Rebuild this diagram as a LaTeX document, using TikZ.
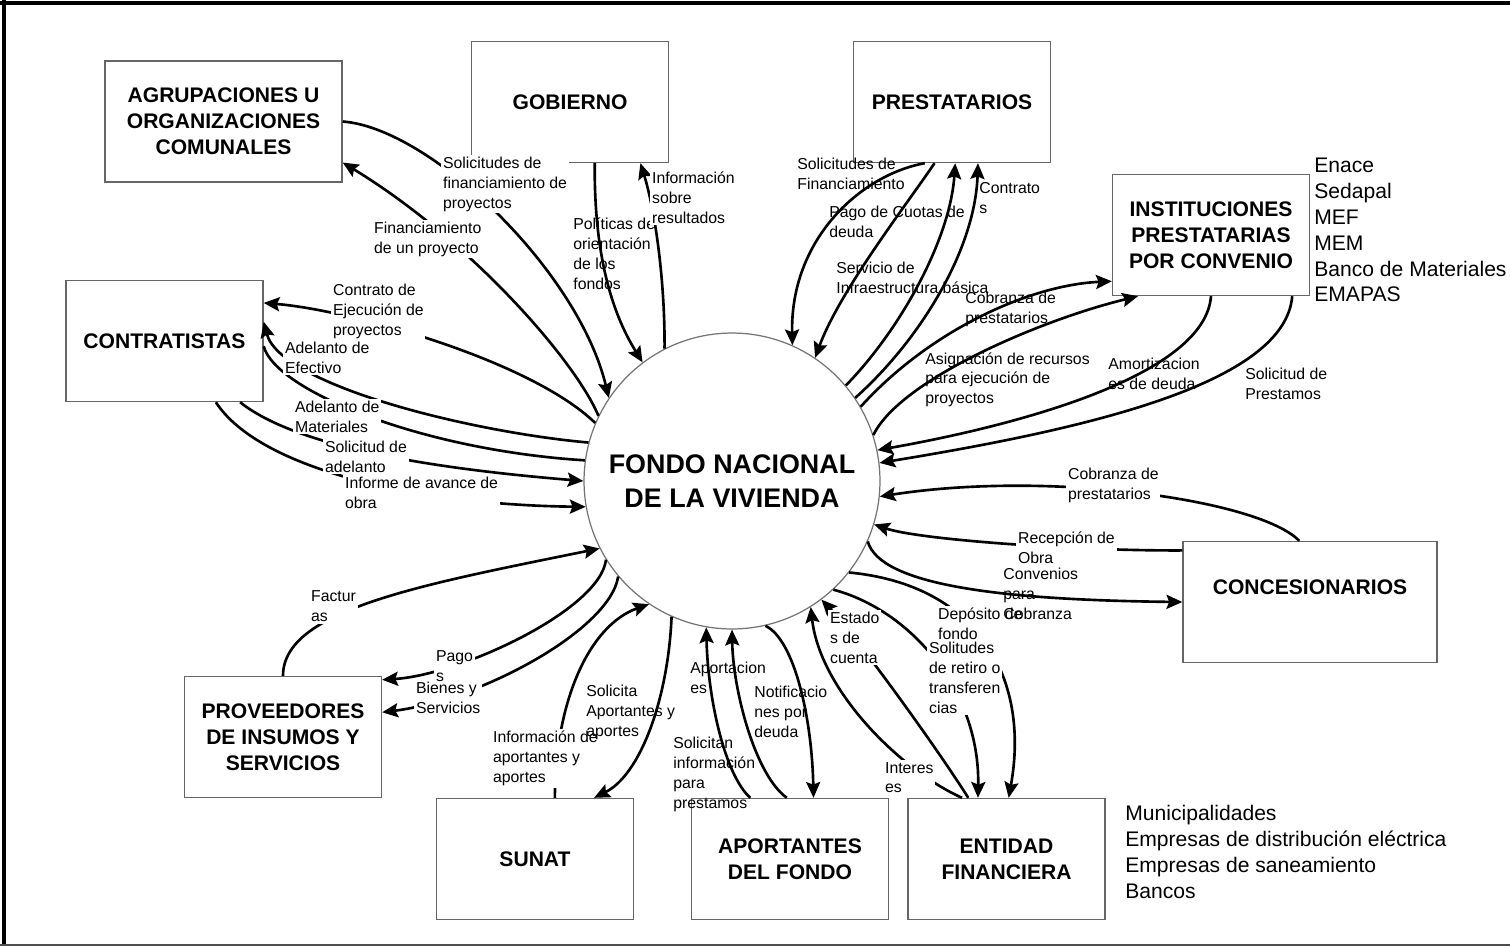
\documentclass[tikz,border=0pt]{standalone}
\usepackage{fontspec}
\setmainfont{Liberation Sans}
\usetikzlibrary{arrows.meta,calc}
\begin{document}
\begin{tikzpicture}[x=0.02cm,y=-0.02cm]
\tikzset{
  entity/.style={draw=black!60, line width=0.8pt, minimum width=3.94cm, minimum height=2.42cm,
    inner sep=0pt, align=center, font=\fontsize{12}{14.7}\selectfont\bfseries},
  proc/.style={circle, draw=black!55, line width=0.7pt, minimum size=5.92cm, inner sep=0pt,
    align=center, font=\fontsize{15.3}{19.3}\selectfont\bfseries},
  flow/.style={line width=1.5pt},
  arrowto/.style={-{Stealth[length=9pt,width=8pt,inset=1.5pt]}},
  lbl/.style={anchor=north west, inner sep=0pt, align=left, font=\fontsize{9}{11.3}\selectfont},
  gap/.style={lbl, fill=white, inner sep=1pt},
  note/.style={anchor=north west, inner sep=0pt, align=left, font=\fontsize{12}{14.7}\selectfont},
}
\useasboundingbox (0,0) rectangle (1510,950);

% outer frame
\draw[line width=2.2pt] (0,3) -- (1510,3);
\draw[line width=2.2pt] (4,0) -- (4,946);
\draw[line width=1pt, black!70] (0,945) -- (1510,945);

% entities
\node[entity, minimum width=4.74cm] (agr) at (223.5,121.5) {AGRUPACIONES U\\ORGANIZACIONES\\COMUNALES};
\node[entity] (gob) at (570,102) {GOBIERNO};
\node[entity] (pre) at (952,102) {PRESTATARIOS};
\node[entity] (ins) at (1211,235) {INSTITUCIONES\\PRESTATARIAS\\POR CONVENIO};
\node[entity] (con) at (164.5,341) {CONTRATISTAS};
\node[entity, minimum width=5.08cm] (cnc) at (1310,602) {\raisebox{17pt}{CONCESIONARIOS}};
\node[entity] (prv) at (283,737) {PROVEEDORES\\DE INSUMOS Y\\SERVICIOS};
\node[entity] (sun) at (535,859) {SUNAT};
\node[entity] (apo) at (790,859) {APORTANTES\\DEL FONDO};
\node[entity] (ent) at (1006.5,859) {ENTIDAD\\FINANCIERA};

% central process
\node[proc] (fnv) at (732,481) {FONDO NACIONAL\\DE LA VIVIENDA};

% side lists
\node[note] (lst1) at (1314,158) {Enace\\Sedapal\\MEF\\MEM\\Banco de Materiales\\EMAPAS};
\node[note] (lst2) at (1125,805) {Municipalidades\\Empresas de distribución eléctrica\\Empresas de saneamiento\\Bancos};

% flows: agrupaciones
\draw[flow,arrowto] (agr.east) .. controls (430,128) and (578,270) .. (fnv.146);
\draw[flow,arrowto] (fnv.154) .. controls (575,360) and (470,240) .. (agr.-19);
% gobierno
\draw[flow,arrowto] (gob.-68) .. controls (594,250) and (610,310) .. (fnv.127);
\draw[flow,arrowto] (fnv.117) .. controls (665,280) and (655,210) .. (gob.-41);
% prestatarios
\draw[flow,arrowto] (pre.-114) .. controls (860,175) and (790,240) .. (fnv.66);
\draw[flow,arrowto] (pre.-106) .. controls (910,200) and (840,290) .. (fnv.56);
\draw[flow,arrowto] (fnv.40) .. controls (900,330) and (950,240) .. (pre.-87);
\draw[flow,arrowto] (fnv.34) .. controls (920,340) and (975,250) .. (pre.-67);
% instituciones
\draw[flow,arrowto] (fnv.30) .. controls (930,330) and (1030,285) .. (ins.-155);
\draw[flow,arrowto] (fnv.18) .. controls (900,380) and (1040,320) .. (ins.-140);
\draw[flow,arrowto] (ins.-90) .. controls (1205,375) and (1020,425) .. (fnv.12);
\draw[flow,arrowto] (ins.-37) .. controls (1285,385) and (1080,430) .. (fnv.7);
% concesionarios
\draw[flow,arrowto] (cnc.100) .. controls (1260,500) and (1050,470) .. (fnv.-6);
\draw[flow,arrowto] (cnc.158) .. controls (1080,551) and (920,540) .. (fnv.-17);
\draw[flow,arrowto] (fnv.-24) .. controls (880,585) and (1000,600) .. (cnc.west);
% entidad financiera
\draw[flow,arrowto] (fnv.-38) .. controls (980,585) and (1030,680) .. (ent.88);
\draw[flow,arrowto] (fnv.-47) .. controls (910,610) and (980,690) .. (ent.115);
\draw[flow,arrowto] (ent.122) .. controls (935,745) and (855,635) .. (fnv.-53);
\draw[flow,arrowto] (ent.126) .. controls (900,770) and (820,690) .. (fnv.-58);
% aportantes
\draw[flow,arrowto] (apo.123) .. controls (725,775) and (708,700) .. (fnv.-100);
\draw[flow,arrowto] (apo.93) .. controls (755,775) and (733,690) .. (fnv.-90);
\draw[flow,arrowto] (fnv.-77) .. controls (795,640) and (812,720) .. (apo.69);
% sunat
\draw[flow,arrowto] (fnv.-114) .. controls (668,700) and (640,775) .. (sun.46);
\draw[flow,arrowto] (sun.72) .. controls (555,700) and (590,625) .. (fnv.-124);
% proveedores
\draw[flow,arrowto] (prv.north) .. controls (283,610) and (420,585) .. (fnv.-153);
\draw[flow,arrowto] (fnv.-148) .. controls (600,610) and (460,675) .. (prv.30);
\draw[flow,arrowto] (fnv.-140) .. controls (610,630) and (480,700) .. (prv.14);
% contratistas
\draw[flow,arrowto] (fnv.157) .. controls (530,360) and (350,310) .. (con.21);
\draw[flow,arrowto] (fnv.165) .. controls (470,432) and (280,385) .. (con.11);
\draw[flow] (con.-3) .. controls (275,390) and (420,450) .. (fnv.172);
\draw[flow,arrowto] (con.-39) .. controls (300,450) and (450,470) .. (fnv.180);
\draw[flow,arrowto] (con.-50) .. controls (260,470) and (420,505) .. (fnv.-170);

% flow labels (the filled ones break the connector behind them)
\node[gap] (l1) at (441,155) {Solicitudes de\\financiamiento de\\proyectos};
\node[gap] (l2) at (372,220) {Financiamiento\\de un proyecto};
\node[lbl] (l3) at (573,218) {Políticas de\\orientación\\de los\\fondos};
\node[gap] (l4) at (650,170) {Información\\sobre\\resultados};
\node[lbl] (l5) at (797,158) {Solicitudes de\\Financiamiento};
\node[lbl] (l6) at (979,182) {Contrato\\s};
\node[lbl] (l7) at (829,206) {Pago de Cuotas de\\deuda};
\node[lbl] (l8) at (836,262) {Servicio de\\Infraestructura básica};
\node[lbl] (l9) at (965,292) {Cobranza de\\prestatarios};
\node[lbl] (l10) at (925,352) {Asignación de recursos\\para ejecución de\\proyectos};
\node[lbl] (l11) at (1108,358) {Amortizacion\\es de deuda};
\node[lbl] (l12) at (1245,368) {Solicitud de\\Prestamos};
\node[gap] (l13) at (1066,466) {Cobranza de\\prestatarios};
\node[gap] (l14) at (1016,530) {Recepción de\\Obra};
\node[gap] (l16) at (936,606) {Depósito de\\fondo};
\node[lbl] (l15) at (1003,568) {Convenios\\para\\Cobranza};
\node[gap] (l17) at (927,640) {Solitudes\\de retiro o\\transferen\\cias};
\node[gap] (l18) at (828,610) {Estado\\s de\\cuenta};
\node[gap] (l19) at (883,760) {Interes\\es};
\node[lbl] (l20) at (754,686) {Notificacio\\nes por\\deuda};
\node[lbl] (l21) at (690,662) {Aportacion\\es};
\node[lbl] (l22) at (673,737) {Solicitan\\información\\para\\prestamos};
\node[gap] (l24) at (491,729) {Información de\\aportantes y\\aportes};
\node[lbl] (l23) at (586,685) {Solicita\\Aportantes y\\aportes};
\node[gap] (l25) at (309,589) {Factur\\as};
\node[gap] (l27) at (414,680) {Bienes y\\Servicios};
\node[gap] (l26) at (434,649) {Pago\\s};
\node[gap] (l28) at (331,282) {Contrato de\\Ejecución de\\proyectos};
\node[gap] (l29) at (283,340) {Adelanto de\\Efectivo};
\node[gap] (l30) at (293,399) {Adelanto de\\Materiales};
\node[gap] (l31) at (323,439) {Solicitud de\\adelanto};
\node[gap] (l32) at (343,475) {Informe de avance de\\obra};
\end{tikzpicture}
\end{document}
